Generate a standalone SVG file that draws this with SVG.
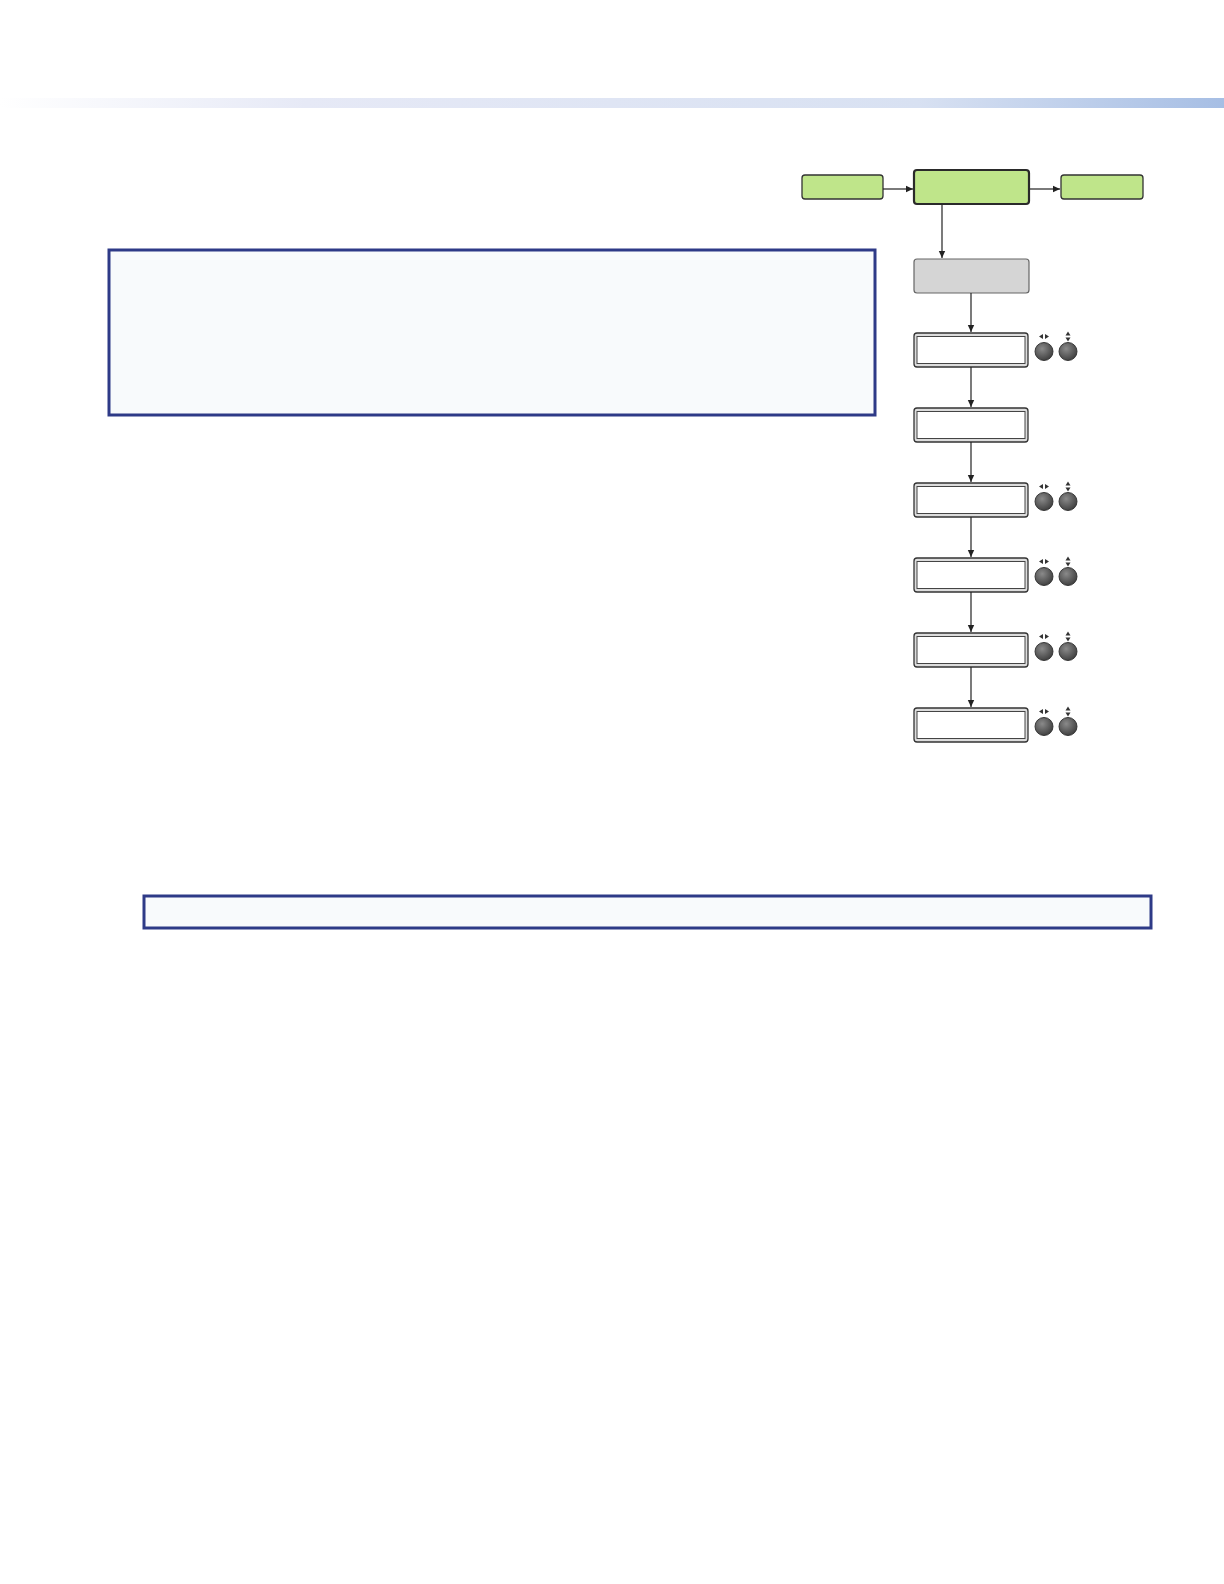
<svg xmlns="http://www.w3.org/2000/svg" width="1224" height="1584" viewBox="0 0 1224 1584">
<defs>
<linearGradient id="band" x1="0" y1="0" x2="1" y2="0">
<stop offset="0" stop-color="#ffffff"/>
<stop offset="0.25" stop-color="#e6e9f6"/>
<stop offset="0.75" stop-color="#d8e1f2"/>
<stop offset="1" stop-color="#a6bee4"/>
</linearGradient>
<radialGradient id="knob" cx="0.4" cy="0.35" r="0.7">
<stop offset="0" stop-color="#8a8a8a"/>
<stop offset="1" stop-color="#3c3c3c"/>
</radialGradient>
<marker id="ah" markerWidth="8" markerHeight="8" refX="7" refY="4" orient="auto" markerUnits="userSpaceOnUse">
<path d="M0,0.8 L7,4 L0,7.2 Z" fill="#222"/>
</marker>
<g id="knobs">
<circle cx="0" cy="0" r="9" fill="url(#knob)" stroke="#2a2a2a" stroke-width="0.9"/>
<circle cx="24" cy="0" r="9" fill="url(#knob)" stroke="#2a2a2a" stroke-width="0.9"/>
<path d="M-1,-17.5 L-5,-15 L-1,-12.5 Z M1,-17.5 L5,-15 L1,-12.5 Z" fill="#333"/>
<path d="M24,-20 L21.5,-16 L26.5,-16 Z M24,-10 L21.5,-14 L26.5,-14 Z" fill="#333"/>
</g>
</defs>
<style>
.green{fill:#bfe58a;stroke:#333;stroke-width:1.3}
.main{fill:#bfe58a;stroke:#2a2a2a;stroke-width:2.2}
.gray{fill:#d5d5d5;stroke:#666;stroke-width:1.2}
.lcdo{fill:#dcdcdc;stroke:#333;stroke-width:1.3}
.lcdi{fill:#ffffff;stroke:#444;stroke-width:1}
.note{fill:#f8fafc;stroke:#2e3a87;stroke-width:3}
.conn{stroke:#222;stroke-width:1.2;fill:none}
</style>
<rect x="0" y="98" width="1224" height="10" fill="url(#band)"/>
<g id="note1"><rect class="note" x="109" y="250" width="766" height="165"/></g>
<g id="note2"><rect class="note" x="144" y="896" width="1007" height="32"/></g>
<g id="left"><rect class="green" x="802" y="175" width="81" height="24" rx="3"/></g>
<g id="main"><rect class="main" x="914" y="170" width="115" height="34" rx="3"/></g>
<g id="right"><rect class="green" x="1061" y="175" width="82" height="24" rx="3"/></g>
<g id="graybox"><rect class="gray" x="914" y="259" width="115" height="34" rx="3"/></g>
<g id="lcd1"><rect class="lcdo" x="914" y="333" width="114" height="34" rx="3"/><rect class="lcdi" x="917" y="336.5" width="108" height="27"/><use href="#knobs" x="1044" y="351.5"/></g>
<g id="lcd2"><rect class="lcdo" x="914" y="408" width="114" height="34" rx="3"/><rect class="lcdi" x="917" y="411.5" width="108" height="27"/></g>
<g id="lcd3"><rect class="lcdo" x="914" y="483" width="114" height="34" rx="3"/><rect class="lcdi" x="917" y="486.5" width="108" height="27"/><use href="#knobs" x="1044" y="501.5"/></g>
<g id="lcd4"><rect class="lcdo" x="914" y="558" width="114" height="34" rx="3"/><rect class="lcdi" x="917" y="561.5" width="108" height="27"/><use href="#knobs" x="1044" y="576.5"/></g>
<g id="lcd5"><rect class="lcdo" x="914" y="633" width="114" height="34" rx="3"/><rect class="lcdi" x="917" y="636.5" width="108" height="27"/><use href="#knobs" x="1044" y="651.5"/></g>
<g id="lcd6"><rect class="lcdo" x="914" y="708" width="114" height="34" rx="3"/><rect class="lcdi" x="917" y="711.5" width="108" height="27"/><use href="#knobs" x="1044" y="726.5"/></g>
<g id="connectors">
<line class="conn" x1="883" y1="189" x2="913" y2="189" marker-end="url(#ah)"/>
<line class="conn" x1="1030" y1="189" x2="1060" y2="189" marker-end="url(#ah)"/>
<line class="conn" x1="942" y1="205" x2="942" y2="258" marker-end="url(#ah)"/>
<line class="conn" x1="971" y1="293" x2="971" y2="332" marker-end="url(#ah)"/>
<line class="conn" x1="971" y1="367" x2="971" y2="407" marker-end="url(#ah)"/>
<line class="conn" x1="971" y1="442" x2="971" y2="482" marker-end="url(#ah)"/>
<line class="conn" x1="971" y1="517" x2="971" y2="557" marker-end="url(#ah)"/>
<line class="conn" x1="971" y1="592" x2="971" y2="632" marker-end="url(#ah)"/>
<line class="conn" x1="971" y1="667" x2="971" y2="707" marker-end="url(#ah)"/>
</g>
</svg>
